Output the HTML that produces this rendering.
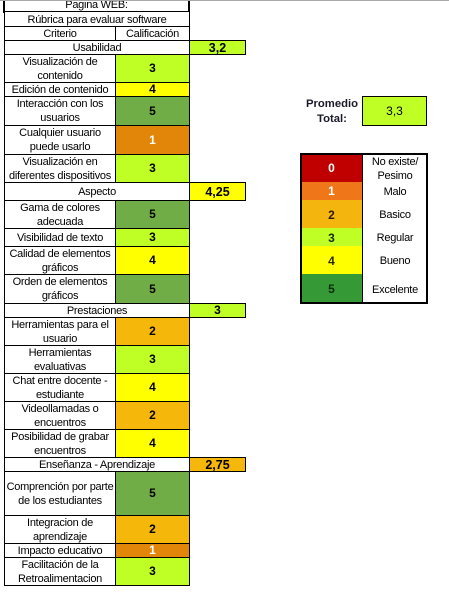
<!DOCTYPE html>
<html lang="es">
<head>
<meta charset="utf-8">
<title>Rúbrica para evaluar software</title>
<style>
html,body{margin:0;padding:0;background:#fff;}
body{width:449px;height:611px;position:relative;overflow:hidden;font-family:"Liberation Sans",Arial,sans-serif;color:#000;}
.c{position:absolute;box-sizing:border-box;border:1px solid #000;display:flex;align-items:center;justify-content:center;text-align:center;font-size:11px;letter-spacing:-0.27px;line-height:14px;background:#fff;white-space:nowrap;padding-top:1px;}
.c:has(br){padding-top:0;}
.v{font-weight:bold;font-size:12px;letter-spacing:0;padding-top:0;padding-bottom:1px;}
.s{font-size:12.5px;padding-bottom:0;}
.l{padding-top:2px;}
.w{color:#fff;}
.c3{background:#BFFF25;}
.c4{background:#FFFF00;}
.c5{background:#70AD47;}
.c1{background:#E2860A;}
.c2{background:#F5B70A;}
</style>
</head>
<body>
<div style="position:absolute;left:0;top:0;width:449px;height:1px;background:#a8a8a8;z-index:5;"></div>

<div class="c" style="left:3px;top:-2px;width:187px;height:15px;border-width:0 2px 2px 2px;">Pagina WEB:</div>
<div class="c" style="left:4px;top:12px;width:186px;height:15px;border-top:0;">Rúbrica para evaluar software</div>
<div class="c" style="left:4px;top:26px;width:112px;height:15px;">Criterio</div>
<div class="c" style="left:115px;top:26px;width:75px;height:15px;">Calificación</div>

<div class="c" style="left:4px;top:40px;width:186px;height:15px;">Usabilidad</div>
<div class="c v s c3" style="left:189px;top:40px;width:57px;height:15px;">3,2</div>

<div class="c" style="left:4px;top:54px;width:112px;height:29px;">Visualización de<br>contenido</div>
<div class="c v c3" style="left:115px;top:54px;width:75px;height:29px;">3</div>
<div class="c" style="left:4px;top:82px;width:112px;height:15px;">Edición de contenido</div>
<div class="c v c4" style="left:115px;top:82px;width:75px;height:15px;">4</div>
<div class="c" style="left:4px;top:96px;width:112px;height:30px;">Interacción con los<br>usuarios</div>
<div class="c v c5" style="left:115px;top:96px;width:75px;height:30px;">5</div>
<div class="c" style="left:4px;top:125px;width:112px;height:30px;">Cualquier usuario<br>puede usarlo</div>
<div class="c v c1 w" style="left:115px;top:125px;width:75px;height:30px;">1</div>
<div class="c" style="left:4px;top:154px;width:112px;height:29px;">Visualización en<br>diferentes dispositivos</div>
<div class="c v c3" style="left:115px;top:154px;width:75px;height:29px;">3</div>

<div class="c" style="left:4px;top:182px;width:186px;height:19px;">Aspecto</div>
<div class="c v s c4" style="left:189px;top:182px;width:57px;height:19px;">4,25</div>

<div class="c" style="left:4px;top:200px;width:112px;height:29px;">Gama de colores<br>adecuada</div>
<div class="c v c5" style="left:115px;top:200px;width:75px;height:29px;">5</div>
<div class="c" style="left:4px;top:228px;width:112px;height:19px;">Visibilidad de texto</div>
<div class="c v c3" style="left:115px;top:228px;width:75px;height:19px;">3</div>
<div class="c" style="left:4px;top:246px;width:112px;height:29px;">Calidad de elementos<br>gráficos</div>
<div class="c v c4" style="left:115px;top:246px;width:75px;height:29px;">4</div>
<div class="c" style="left:4px;top:274px;width:112px;height:30px;">Orden de elementos<br>gráficos</div>
<div class="c v c5" style="left:115px;top:274px;width:75px;height:30px;">5</div>

<div class="c" style="left:4px;top:303px;width:186px;height:15px;">Prestaciones</div>
<div class="c v c3" style="left:189px;top:303px;width:57px;height:15px;">3</div>

<div class="c" style="left:4px;top:317px;width:112px;height:29px;">Herramientas para el<br>usuario</div>
<div class="c v c2" style="left:115px;top:317px;width:75px;height:29px;">2</div>
<div class="c" style="left:4px;top:345px;width:112px;height:29px;">Herramientas<br>evaluativas</div>
<div class="c v c3" style="left:115px;top:345px;width:75px;height:29px;">3</div>
<div class="c" style="left:4px;top:373px;width:112px;height:29px;">Chat entre docente -<br>estudiante</div>
<div class="c v c4" style="left:115px;top:373px;width:75px;height:29px;">4</div>
<div class="c" style="left:4px;top:401px;width:112px;height:29px;">Videollamadas o<br>encuentros</div>
<div class="c v c2" style="left:115px;top:401px;width:75px;height:29px;">2</div>
<div class="c" style="left:4px;top:429px;width:112px;height:29px;">Posibilidad de grabar<br>encuentros</div>
<div class="c v c4" style="left:115px;top:429px;width:75px;height:29px;">4</div>

<div class="c" style="left:4px;top:457px;width:186px;height:15px;">Enseñanza - Aprendizaje</div>
<div class="c v s c2" style="left:189px;top:457px;width:57px;height:15px;">2,75</div>

<div class="c" style="left:4px;top:471px;width:112px;height:45px;">Comprención por parte<br>de los estudiantes</div>
<div class="c v c5" style="left:115px;top:471px;width:75px;height:45px;">5</div>
<div class="c" style="left:4px;top:515px;width:112px;height:29px;">Integracion de<br>aprendizaje</div>
<div class="c v c2" style="left:115px;top:515px;width:75px;height:29px;">2</div>
<div class="c" style="left:4px;top:543px;width:112px;height:15px;">Impacto educativo</div>
<div class="c v c1 w" style="left:115px;top:543px;width:75px;height:15px;">1</div>
<div class="c" style="left:4px;top:557px;width:112px;height:29px;">Facilitación de la<br>Retroalimentacion</div>
<div class="c v c3" style="left:115px;top:557px;width:75px;height:29px;">3</div>

<div style="position:absolute;left:300px;top:97px;width:64px;text-align:center;font-weight:bold;font-size:11.3px;line-height:15px;color:#1a1a2a;">Promedio<br>Total:</div>
<div class="c" style="left:362px;top:96px;width:65px;height:30px;background:#BFFF25;font-size:12px;letter-spacing:0;padding-top:0;">3,3</div>

<div class="c v w" style="left:301px;top:155px;width:62px;height:28px;background:#C00000;border-width:0 1px 1px 0;padding-top:0;">0</div>
<div class="c" style="left:362px;top:155px;width:65px;height:28px;border-width:0 0 1px 1px;">No existe/<br>Pesimo</div>
<div class="c v w" style="left:301px;top:182px;width:62px;height:19px;background:#F0761A;border-width:0 1px 1px 0;padding-top:1px;">1</div>
<div class="c l" style="left:362px;top:182px;width:65px;height:19px;border-width:0 0 1px 1px;">Malo</div>
<div class="c v l" style="left:301px;top:200px;width:62px;height:29px;background:#F5B50F;border-width:0 1px 1px 0;color:#2a1a00;">2</div>
<div class="c l" style="left:362px;top:200px;width:65px;height:29px;border-width:0 0 1px 1px;">Basico</div>
<div class="c v l" style="left:301px;top:228px;width:62px;height:19px;background:#BFFF25;border-width:0 1px 1px 0;color:#1a2a00;">3</div>
<div class="c l" style="left:362px;top:228px;width:65px;height:19px;border-width:0 0 1px 1px;">Regular</div>
<div class="c v l" style="left:301px;top:246px;width:62px;height:29px;background:#FFFF00;border-width:0 1px 1px 0;color:#2a2a00;">4</div>
<div class="c l" style="left:362px;top:246px;width:65px;height:29px;border-width:0 0 1px 1px;">Bueno</div>
<div class="c v l" style="left:301px;top:274px;width:62px;height:29px;background:#359A35;border-width:0 1px 0 0;color:#0a2a0a;">5</div>
<div class="c l" style="left:362px;top:274px;width:65px;height:29px;border-width:0 0 0 1px;">Excelente</div>
<div style="position:absolute;left:300px;top:153px;width:128px;height:151px;box-sizing:border-box;border:2px solid #000;pointer-events:none;"></div>
</body>
</html>
